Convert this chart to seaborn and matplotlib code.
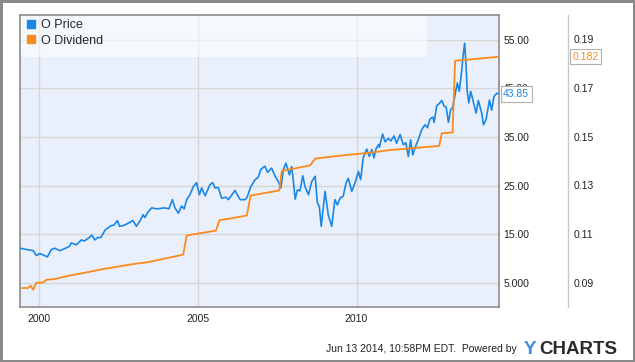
import matplotlib
matplotlib.use("Agg")
import matplotlib.pyplot as plt
import matplotlib.ticker as ticker
from matplotlib.lines import Line2D
from matplotlib.patches import Rectangle
import seaborn as sns

PRICE_COLOR = "#1a87e4"
DIV_COLOR = "#fb8a1e"

# O price (decimal year, USD)
price_years = [1999.42, 1999.57, 1999.83, 1999.93, 2000.04, 2000.15, 2000.28, 2000.40, 2000.51, 2000.67,
               2000.82, 2000.98, 2001.03, 2001.19, 2001.35, 2001.45, 2001.61, 2001.68, 2001.77, 2001.86,
               2001.96, 2002.10, 2002.27, 2002.38, 2002.48, 2002.55, 2002.68, 2002.81, 2002.97, 2003.08,
               2003.18, 2003.29, 2003.34, 2003.44, 2003.56, 2003.72, 2003.85, 2003.98, 2004.10, 2004.21,
               2004.29, 2004.40, 2004.50, 2004.58, 2004.66, 2004.76, 2004.87, 2004.97, 2005.06, 2005.13,
               2005.24, 2005.39, 2005.48, 2005.55, 2005.65, 2005.76, 2005.90, 2005.97, 2006.08, 2006.18,
               2006.25, 2006.34, 2006.49, 2006.56, 2006.67, 2006.81, 2006.91, 2006.99, 2007.12, 2007.20,
               2007.33, 2007.44, 2007.54, 2007.62, 2007.70, 2007.78, 2007.89, 2007.96, 2008.01, 2008.07,
               2008.14, 2008.22, 2008.31, 2008.38, 2008.49, 2008.59, 2008.70, 2008.77, 2008.83, 2008.89,
               2008.96, 2009.01, 2009.11, 2009.22, 2009.32, 2009.40, 2009.48, 2009.58, 2009.67, 2009.74,
               2009.85, 2009.95, 2010.06, 2010.13, 2010.21, 2010.32, 2010.40, 2010.48, 2010.55, 2010.61,
               2010.69, 2010.72, 2010.82, 2010.90, 2011.00, 2011.08, 2011.18, 2011.26, 2011.37, 2011.47,
               2011.55, 2011.63, 2011.70, 2011.77, 2011.84, 2011.94, 2012.05, 2012.15, 2012.23, 2012.31,
               2012.40, 2012.44, 2012.52, 2012.59, 2012.68, 2012.75, 2012.82, 2012.89, 2012.96, 2013.02,
               2013.10, 2013.17, 2013.23, 2013.31, 2013.36, 2013.40, 2013.44, 2013.48, 2013.53, 2013.59,
               2013.67, 2013.76, 2013.83, 2013.94, 2013.99, 2014.07, 2014.18, 2014.25, 2014.32, 2014.41,
               2014.47]
price_values = [12.1, 11.9, 11.6, 10.6, 11.0, 10.7, 10.3, 11.8, 12.1, 11.6,
                12.0, 12.5, 13.2, 12.8, 13.8, 13.6, 14.4, 14.8, 13.8, 14.3,
                14.3, 15.9, 16.7, 16.9, 17.8, 16.6, 16.8, 17.2, 17.8, 16.6,
                17.6, 19.0, 18.4, 19.5, 20.4, 20.2, 20.3, 20.4, 20.2, 22.1,
                20.4, 19.3, 20.8, 20.2, 22.1, 23.1, 24.8, 25.6, 23.1, 24.5,
                22.9, 25.2, 25.6, 24.5, 24.6, 22.4, 22.6, 22.1, 23.1, 24.0,
                23.1, 22.1, 22.1, 22.6, 24.7, 26.2, 26.7, 28.3, 29.0, 27.7,
                28.6, 26.9, 25.8, 24.5, 28.3, 29.6, 27.2, 28.9, 26.2, 22.2,
                24.1, 23.9, 27.0, 24.8, 23.1, 25.8, 26.9, 21.4, 20.7, 16.6,
                20.7, 23.8, 19.0, 16.6, 22.1, 21.0, 22.4, 22.8, 25.5, 26.5,
                23.8, 25.5, 27.9, 26.2, 30.7, 32.5, 31.0, 32.4, 30.7, 32.5,
                33.4, 32.9, 35.6, 34.0, 34.7, 34.2, 35.2, 33.7, 35.5, 33.4,
                33.8, 31.0, 34.4, 31.3, 32.8, 34.4, 36.5, 37.5, 36.9, 38.7,
                39.1, 38.0, 41.4, 41.8, 42.5, 41.4, 41.1, 38.0, 40.6, 41.0,
                43.7, 46.1, 44.4, 48.8, 52.3, 54.3, 50.2, 44.4, 42.0, 44.4,
                42.3, 39.9, 42.5, 39.8, 37.5, 38.5, 42.6, 40.5, 43.3, 44.0,
                43.85]

# O dividend (decimal year, USD)
div_years = [1999.48, 1999.67, 1999.75, 1999.83, 1999.93, 2000.14, 2000.25, 2000.51, 2001.00, 2001.50,
             2002.00, 2002.50, 2003.00, 2003.44, 2004.00, 2004.55, 2004.66, 2005.03, 2005.58, 2005.69,
             2006.00, 2006.55, 2006.67, 2007.28, 2007.57, 2007.65, 2008.00, 2008.54, 2008.70, 2009.50,
             2010.42, 2011.05, 2011.80, 2012.60, 2012.68, 2013.02, 2013.10, 2013.80, 2014.43]
div_values = [0.0878, 0.0878, 0.0888, 0.0871, 0.0899, 0.0901, 0.0912, 0.0915, 0.0930, 0.0942,
              0.0955, 0.0966, 0.0977, 0.0984, 0.1000, 0.1015, 0.1094, 0.1102, 0.1114, 0.1157,
              0.1163, 0.1176, 0.1258, 0.1272, 0.1279, 0.1359, 0.1368, 0.1382, 0.1410, 0.1422,
              0.1434, 0.1445, 0.1453, 0.1462, 0.1514, 0.1517, 0.1812, 0.1820, 0.1828]

year_ticks = [2000, 2005, 2010]
price_ticks = [5, 15, 25, 35, 45, 55]
price_labels = ["5.000", "15.00", "25.00", "35.00", "45.00", "55.00"]
div_ticks = [0.09, 0.11, 0.13, 0.15, 0.17, 0.19]
div_labels = ["0.09", "0.11", "0.13", "0.15", "0.17", "0.19"]

sns.set_theme(style="white")
plt.rcParams["font.family"] = ["Liberation Sans", "DejaVu Sans"]

fig = plt.figure(figsize=(6.35, 3.62), dpi=100)
fig.patch.set_facecolor("white")
fig.patch.set_edgecolor("#8a8a8a")
fig.patch.set_linewidth(2.5)

ax = fig.add_axes([20 / 635, 55 / 362, 479 / 635, 292 / 362])
ax.set_facecolor("#eaf0fb")
ax2 = ax.twinx()

sns.lineplot(x=price_years, y=price_values, ax=ax, color=PRICE_COLOR, linewidth=1.2, estimator=None, zorder=3)
sns.lineplot(x=div_years, y=div_values, ax=ax2, color=DIV_COLOR, linewidth=1.3, estimator=None, zorder=3)

ax.set_xlim(1999.418, 2014.48)
ax.set_ylim(0, 60.1)
ax2.set_ylim(0.08, 0.2)

# grid
ax.set_axisbelow(True)
ax.grid(True, color="#d6d6d6", linewidth=1.0)
ax.xaxis.set_major_locator(ticker.FixedLocator(year_ticks))
ax.xaxis.set_major_formatter(ticker.FixedFormatter([str(y) for y in year_ticks]))
ax.yaxis.set_major_locator(ticker.FixedLocator(price_ticks))
ax.yaxis.set_major_formatter(ticker.FixedFormatter(price_labels))
ax.yaxis.tick_right()
ax.tick_params(axis="both", length=0, labelsize=7.5, colors="#222222")
ax.tick_params(axis="y", pad=3)
ax.tick_params(axis="x", pad=5)
ax.set_xlabel("")
ax.set_ylabel("")
for sp in ax.spines.values():
    sp.set_color("#8c8c8c")
    sp.set_linewidth(1.2)

ax2.yaxis.set_major_locator(ticker.FixedLocator(div_ticks))
ax2.yaxis.set_major_formatter(ticker.FixedFormatter(div_labels))
ax2.tick_params(axis="y", length=0, labelsize=7.5, colors="#222222", pad=4)
ax2.set_ylabel("")
for name in ["left", "top", "bottom"]:
    ax2.spines[name].set_visible(False)
ax2.spines["right"].set_position(("outward", 50))
ax2.spines["right"].set_color("#c8c8c8")
ax2.spines["right"].set_linewidth(1.0)

# legend band
ax.add_patch(Rectangle((0, 250 / 292), 407 / 479, 42 / 292, transform=ax.transAxes,
                       facecolor="white", alpha=0.55, edgecolor="none", zorder=0.6))

handles = [Line2D([], [], marker="s", linestyle="none", color=PRICE_COLOR, markersize=5.5),
           Line2D([], [], marker="s", linestyle="none", color=DIV_COLOR, markersize=5.5)]
leg = ax2.legend(handles, ["O Price", "O Dividend"], loc="upper left", bbox_to_anchor=(0.012, 0.985),
                 frameon=False, fontsize=9, handlelength=0.8, handletextpad=0.4, labelspacing=0.25,
                 borderaxespad=0, borderpad=0)

# last value flags
ax.annotate("43.85", xy=(1, price_values[-1]), xycoords=("axes fraction", "data"),
            xytext=(3, 0), textcoords="offset points", va="center", ha="left",
            fontsize=7.5, color=PRICE_COLOR, annotation_clip=False, zorder=5,
            bbox=dict(boxstyle="square,pad=0.25", facecolor="white", edgecolor="#b0b0b0", linewidth=0.8))
ax2.annotate("0.182", xy=(1, div_values[-1]), xycoords=("axes fraction", "data"),
             xytext=(53, 0), textcoords="offset points", va="center", ha="left",
             fontsize=7.5, color=DIV_COLOR, annotation_clip=False, zorder=5,
             bbox=dict(boxstyle="square,pad=0.25", facecolor="white", edgecolor="#b0b0b0", linewidth=0.8))

# footer
fy = 1 - 349 / 362
fig.text(517 / 635, fy, "Jun 13 2014, 10:58PM EDT.  Powered by", ha="right", va="center",
         fontsize=7.5, color="#222222")
fig.text(524 / 635, fy, "Y", ha="left", va="center", fontsize=13.5, fontweight="bold", color="#3d8fe0")
fig.text(539 / 635, fy, "CHARTS", ha="left", va="center", fontsize=13.5, fontweight="bold", color="#2a2a2a")

fig.savefig("out.png", dpi=100)
